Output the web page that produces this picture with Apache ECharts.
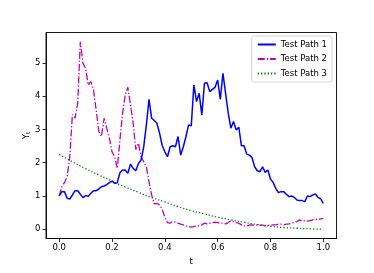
<!DOCTYPE html>
<html>
<head>
<meta charset="utf-8">
<script src="https://cdn.jsdelivr.net/npm/echarts@6/dist/echarts.min.js"></script>
<style>
html,body{margin:0;padding:0;background:#fff;}
#c{width:374px;height:273px;}
</style>
</head>
<body>
<div id="c"></div>
<script>
// Data
const seriesNames = ["Test Path 1", "Test Path 2", "Test Path 3"];
const xTicks = [0, 0.2, 0.4, 0.6, 0.8, 1.0];
const yTicks = [0, 1, 2, 3, 4, 5];
// Paths 1 and 2 sampled at t = 0, 0.01, ..., 1.00
const path1 = [1.00,1.13,1.13,0.93,0.91,1.03,1.16,1.16,1.05,0.95,1.01,0.99,1.08,1.16,1.16,1.21,1.28,1.30,1.34,1.40,
  1.45,1.38,1.40,1.70,1.78,1.78,1.68,1.96,1.83,1.76,1.98,2.08,2.48,3.14,3.91,3.34,3.27,3.19,2.89,2.52,
  2.33,2.18,2.48,2.51,2.48,2.79,2.23,2.48,2.79,3.14,3.11,4.34,3.84,4.09,3.44,4.39,4.41,4.14,4.21,4.27,
  4.49,3.91,4.69,4.09,3.49,3.04,3.24,2.99,3.07,2.51,2.51,2.26,2.23,2.16,1.88,1.76,1.73,1.88,1.71,1.78,
  1.51,1.41,1.23,1.10,1.13,1.13,1.05,0.98,1.00,0.96,0.88,0.86,0.86,0.83,1.00,0.98,1.03,1.06,0.96,0.91,0.78];
const path2 = [1.00,1.28,1.40,1.58,2.18,3.45,3.34,3.79,5.64,4.99,4.84,4.34,4.44,4.19,3.59,2.94,2.79,3.34,3.04,2.74,
  2.33,2.18,1.83,2.69,3.49,4.04,4.27,3.74,3.19,2.40,2.59,2.18,2.03,1.88,1.43,1.03,0.76,0.78,0.73,0.60,
  0.36,0.20,0.18,0.23,0.21,0.18,0.15,0.13,0.10,0.08,0.06,0.08,0.10,0.10,0.13,0.18,0.16,0.18,0.20,0.21,
  0.20,0.18,0.18,0.16,0.20,0.26,0.23,0.20,0.18,0.13,0.10,0.10,0.12,0.13,0.12,0.13,0.12,0.12,0.10,0.11,
  0.12,0.13,0.13,0.15,0.15,0.13,0.15,0.16,0.18,0.20,0.23,0.28,0.24,0.25,0.24,0.26,0.28,0.30,0.30,0.31,0.32];
// Path 3 sampled at t = 0, 0.05, ..., 1.00
const path3 = [2.25,2.03,1.82,1.63,1.45,1.27,1.11,0.95,0.82,0.68,0.56,0.46,0.36,0.28,0.21,0.14,0.09,0.05,0.03,0.01,0.00];

function pairs(vals){
  const n = vals.length;
  return vals.map((v,i)=>[i/(n-1), v]);
}

const FONT = "DejaVu Sans";
const chart = echarts.init(document.getElementById('c'), null, {renderer:'canvas'});
chart.setOption({
  animation:false,
  backgroundColor:'#fff',
  textStyle:{fontFamily:FONT},
  grid:{left:46, right:37.5, top:32.5, bottom:34.5, show:true, borderColor:'#000', borderWidth:0.9, backgroundColor:'transparent'},
  legend:{
    orient:'vertical', right:42, top:36,
    itemWidth:18, itemHeight:9, itemGap:5.5,
    padding:[4,5,4,5],
    borderColor:'#cccccc', borderWidth:0.8, borderRadius:2,
    backgroundColor:'rgba(255,255,255,0.85)',
    itemStyle:{color:'rgba(0,0,0,0)', borderColor:'rgba(0,0,0,0)', borderWidth:0},
    textStyle:{fontFamily:FONT, fontSize:8.5, color:'#000', padding:[0,0,0,0]},
    data:seriesNames
  },
  xAxis:{
    type:'value', min:-0.05, max:1.05,
    name:'t', nameLocation:'middle', nameGap:19, nameMoveOverlap:false,
    nameTextStyle:{fontFamily:FONT, fontSize:8.5, color:'#000'},
    splitLine:{show:false},
    axisLine:{show:true, onZero:false, lineStyle:{color:'#000', width:0.9}},
    axisTick:{show:true, length:3.5, inside:false, customValues:xTicks, lineStyle:{color:'#000', width:0.8}},
    axisLabel:{customValues:xTicks, margin:5, fontFamily:FONT, fontSize:8.5, color:'#000',
      formatter:v=>Number(v).toFixed(1)}
  },
  yAxis:{
    type:'value', min:-0.28, max:5.92,
    name:'{a|Y}{b|t}', nameLocation:'middle', nameGap:15, nameRotate:90, nameMoveOverlap:false,
    nameTextStyle:{fontFamily:FONT, color:'#000',
      rich:{a:{fontFamily:FONT, fontSize:8.5, color:'#000', lineHeight:12, verticalAlign:'bottom'},
            b:{fontFamily:FONT, fontSize:6, color:'#000', lineHeight:12, verticalAlign:'bottom', padding:[3,0,0,0]}}},
    splitLine:{show:false},
    axisLine:{show:true, onZero:false, lineStyle:{color:'#000', width:0.9}},
    axisTick:{show:true, length:3.5, inside:false, customValues:yTicks, lineStyle:{color:'#000', width:0.8}},
    axisLabel:{customValues:yTicks, margin:5.5, fontFamily:FONT, fontSize:8.5, color:'#000'}
  },
  series:[
    {name:seriesNames[0], type:'line', data:pairs(path1), symbol:'none', showSymbol:false, z:3,
     lineStyle:{color:'#0000ff', width:1.5}, itemStyle:{color:'#0000ff'}},
    {name:seriesNames[1], type:'line', data:pairs(path2), symbol:'none', showSymbol:false, z:2,
     lineStyle:{color:'#bf00bf', width:1.3, type:[7,2,1.3,2]}, itemStyle:{color:'#bf00bf'}},
    {name:seriesNames[2], type:'line', data:pairs(path3), symbol:'none', showSymbol:false, smooth:true, z:1,
     lineStyle:{color:'#008000', width:1.3, type:[1.3,2]}, itemStyle:{color:'#008000'}}
  ]
});
</script>
</body>
</html>
